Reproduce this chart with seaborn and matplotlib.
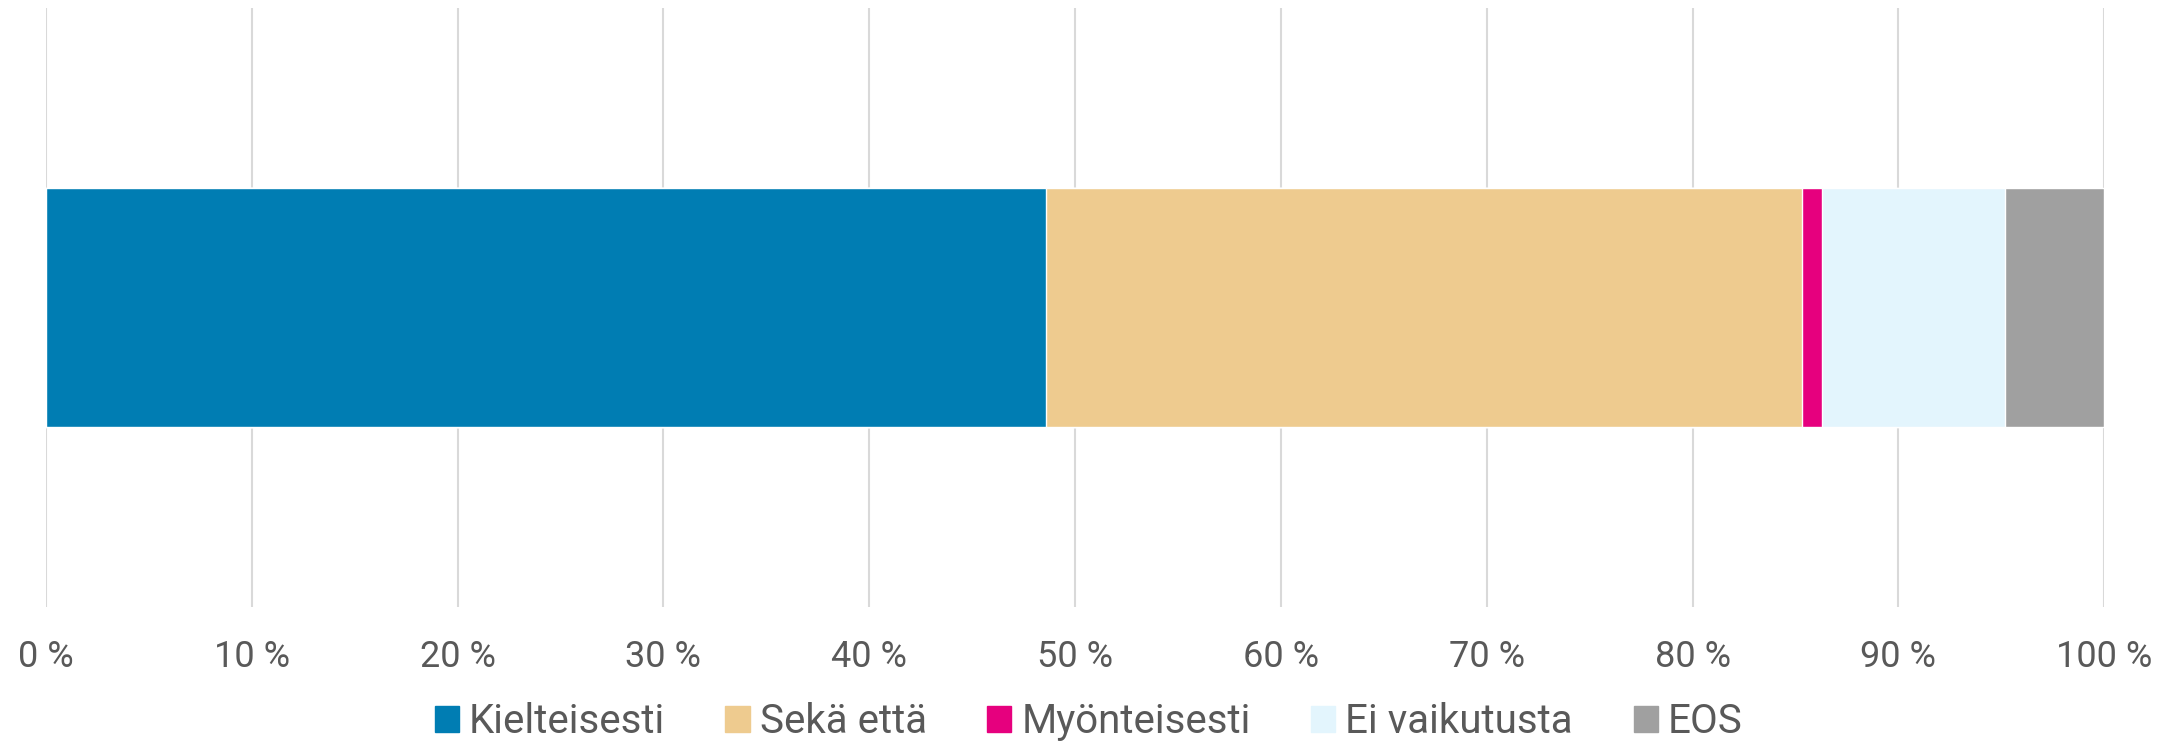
import pandas as pd
import seaborn as sns
import matplotlib.pyplot as plt
import matplotlib.patches as mpatches
import numpy as np

sns.set_style("white")
plt.rcParams['font.family'] = ['Roboto', 'DejaVu Sans']

# Data
categories = ["Kielteisesti", "Sekä että", "Myönteisesti", "Ei vaikutusta", "EOS"]
values = [48.6, 36.7, 1.0, 8.9, 4.8]
colors = ["#007DB3", "#EECB8F", "#E6007E", "#E3F5FD", "#A0A0A0"]
tick_values = list(range(0, 101, 10))
tick_labels = [f"{t} %" for t in tick_values]

cum = np.cumsum(values)
df = pd.DataFrame({'category': categories, 'cum': cum, 'row': [""] * len(categories)})

fig = plt.figure(figsize=(21.77, 7.45), dpi=100)
ax = fig.add_axes([0.0211, 0.1852, 0.9455, 0.8041])

# Stacked bar: draw cumulative totals from largest to smallest
for i in reversed(range(len(categories))):
    sns.barplot(data=df.iloc[[i]], x='cum', y='row', color=colors[i],
                width=0.4, orient='h', ax=ax, saturation=1, zorder=2)

ax.set_xlim(0, 100)
ax.set_ylim(0.5, -0.5)
ax.set_xticks(tick_values)
ax.set_xticklabels(tick_labels)
ax.set_yticks([])
ax.set_xlabel("")
ax.set_ylabel("")
ax.grid(axis='x', color='#D9D9D9', linewidth=1.5, zorder=0)
ax.set_axisbelow(True)
ax.tick_params(axis='x', length=0, pad=23, labelsize=26, labelcolor='#595959')
for s in ax.spines.values():
    s.set_visible(False)

handles = [mpatches.Patch(color=c, label=l) for c, l in zip(colors, categories)]
fig.legend(handles=handles, loc='lower center', bbox_to_anchor=(0.5, 0.0), ncol=5,
           frameon=False, fontsize=29, labelcolor='#595959', borderaxespad=0, borderpad=0.1,
           handlelength=0.6, handleheight=0.6, handletextpad=0.25, columnspacing=1.5)

fig.savefig("out.png", dpi=100)
